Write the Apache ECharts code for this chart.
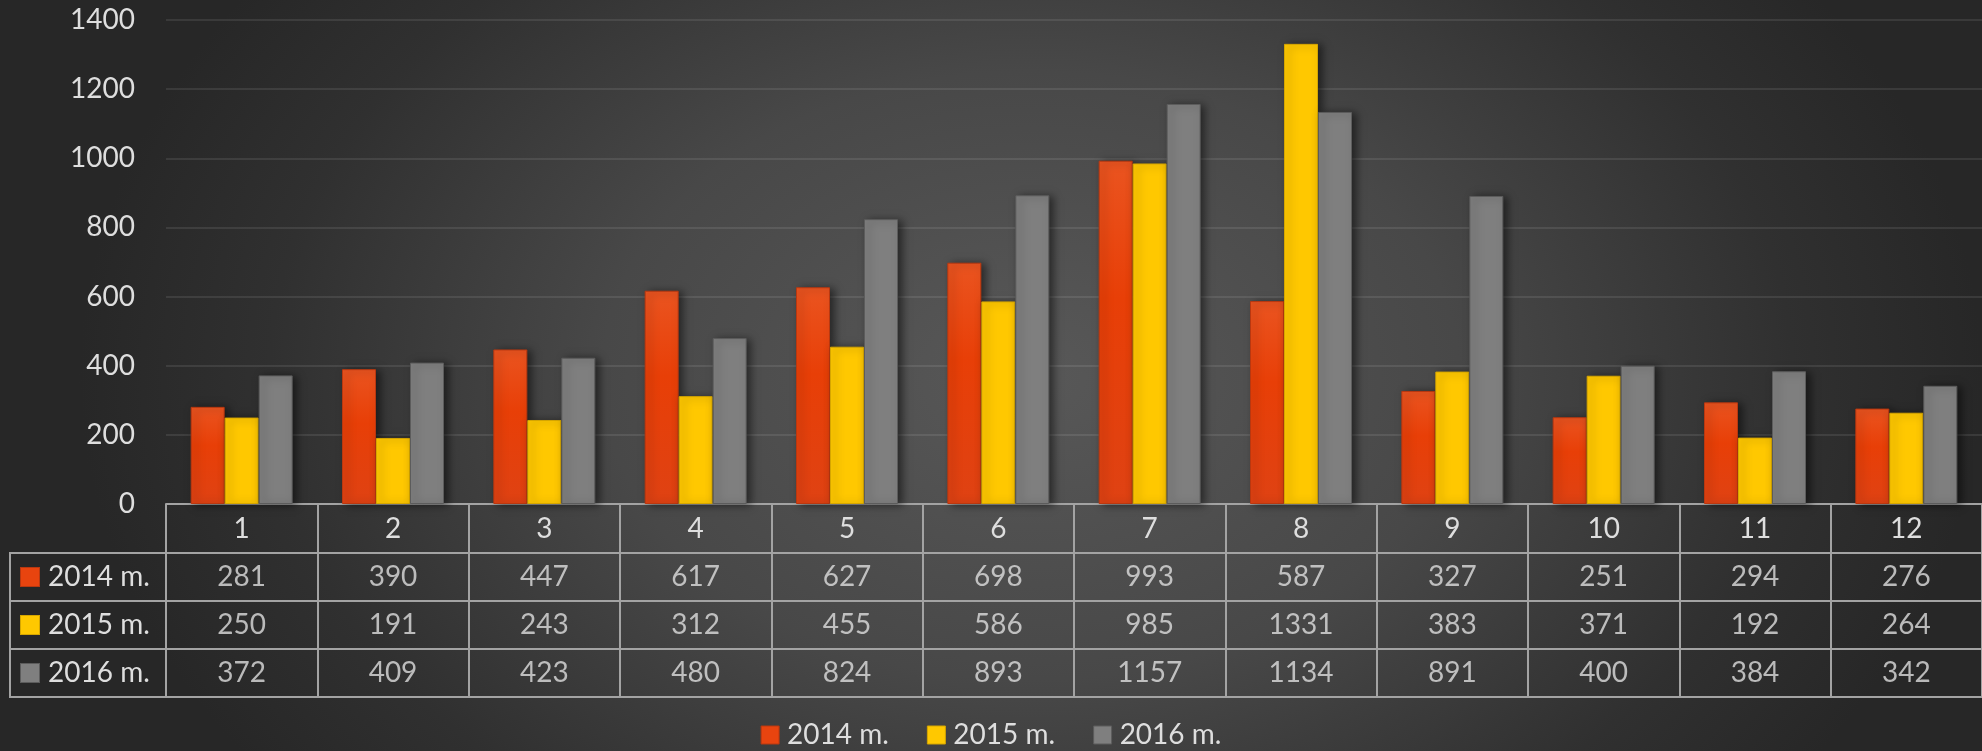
<!DOCTYPE html>
<html>
<head>
<meta charset="utf-8">
<title>2014-2016 m.</title>
<script src="https://cdn.jsdelivr.net/npm/echarts@6/dist/echarts.min.js"></script>
<style>
  html, body { margin: 0; padding: 0; }
  #chart {
    width: 1982px;
    height: 751px;
    background: radial-gradient(ellipse 48% 90% at 52% 50%, #585858 0%, #484848 45%, #303030 80%, #272727 100%);
  }
</style>
</head>
<body>
<div id="chart"></div>
<script>
// data
const months = ['1', '2', '3', '4', '5', '6', '7', '8', '9', '10', '11', '12'];
const seriesNames = ['2014 m.', '2015 m.', '2016 m.'];
const values2014 = [281, 390, 447, 617, 627, 698, 993, 587, 327, 251, 294, 276];
const values2015 = [250, 191, 243, 312, 455, 586, 985, 1331, 383, 371, 192, 264];
const values2016 = [372, 409, 423, 480, 824, 893, 1157, 1134, 891, 400, 384, 342];
const yMin = 0;
const yMax = 1400;
const yStep = 200;

const allValues = [values2014, values2015, values2016];
const colors = ['#E8440F', '#FFC800', '#7F7F7F'];
const borders = ['#B93810', '#D6A600', '#5C5C5C'];
const textColor = '#dedede';
const lineColor = '#a3a3a3';
const font = 'Lato, "Open Sans", sans-serif';

const chart = echarts.init(document.getElementById('chart'));

// cells of the data table: [month index, row index, value]
const tableCells = [];
allValues.forEach((vals, r) => {
  vals.forEach((v, c) => tableCells.push([c, r, v]));
});

const rich = { t: { fontSize: 28, color: textColor, fontFamily: font, padding: [0, 0, 0, 9] } };
colors.forEach((c, i) => {
  rich['m' + i] = { width: 18, height: 18, backgroundColor: c, borderColor: borders[i], borderWidth: 1 };
});

const barSeries = seriesNames.map((name, i) => ({
  name: name,
  type: 'bar',
  xAxisIndex: 0,
  yAxisIndex: 0,
  data: allValues[i],
  barWidth: 34,
  barGap: '0%',
  itemStyle: {
    color: i === 0 ? {
      type: 'linear', x: 0, y: 0, x2: 0, y2: 1,
      colorStops: [{ offset: 0, color: '#EA5420' }, { offset: 0.4, color: '#E83F07' }, { offset: 1, color: '#DF4213' }]
    } : colors[i],
    borderColor: borders[i],
    borderWidth: 1,
    shadowBlur: 8,
    shadowColor: 'rgba(0,0,0,0.5)',
    shadowOffsetX: 4,
    shadowOffsetY: 1
  }
}));

const option = {
  animation: false,
  backgroundColor: 'transparent',
  textStyle: { fontFamily: font },
  legend: {
    data: seriesNames.map((n, i) => ({ name: n, itemStyle: { color: colors[i], borderColor: borders[i], borderWidth: 1, shadowBlur: 0 } })),
    left: 'center',
    top: 721,
    padding: 0,
    icon: 'rect',
    itemWidth: 18,
    itemHeight: 18,
    itemGap: 38,
    textStyle: { color: textColor, fontSize: 28, padding: [0, 0, 0, 3] }
  },
  grid: [
    { left: 166, width: 1820, top: 20, height: 484 },
    { left: 166, width: 1820, top: 553, height: 144, show: true, borderColor: lineColor, borderWidth: 2, backgroundColor: 'transparent' },
    { left: 10, width: 156, top: 553, height: 144, show: true, borderColor: lineColor, borderWidth: 2, backgroundColor: 'transparent' }
  ],
  xAxis: [
    {
      type: 'category',
      gridIndex: 0,
      data: months,
      axisLine: { show: true, lineStyle: { color: lineColor, width: 2 } },
      axisTick: { show: true, interval: 0, length: 49, lineStyle: { color: lineColor, width: 2 } },
      axisLabel: { interval: 0, margin: 25, verticalAlign: 'middle', color: textColor, fontSize: 28 },
      splitLine: { show: false }
    },
    {
      type: 'category',
      gridIndex: 1,
      data: months,
      axisLine: { show: false },
      axisTick: { show: false },
      axisLabel: { show: false },
      splitLine: { show: true, interval: 0, lineStyle: { color: lineColor, width: 2 } }
    },
    { type: 'value', gridIndex: 2, show: false }
  ],
  yAxis: [
    {
      type: 'value',
      gridIndex: 0,
      min: yMin,
      max: yMax,
      interval: yStep,
      axisLine: { show: false },
      axisTick: { show: false },
      axisLabel: { color: textColor, fontSize: 28, margin: 31, formatter: v => String(v) },
      splitLine: { show: true, lineStyle: { color: 'rgba(255,255,255,0.09)', width: 2 } }
    },
    {
      type: 'category',
      gridIndex: 1,
      data: seriesNames,
      inverse: true,
      axisLine: { show: false },
      axisTick: { show: false },
      axisLabel: { show: false },
      splitLine: { show: true, interval: 0, lineStyle: { color: lineColor, width: 2 } }
    },
    {
      type: 'category',
      gridIndex: 2,
      data: seriesNames,
      inverse: true,
      axisLine: { show: false },
      axisTick: { show: false },
      axisLabel: {
        inside: true,
        margin: 11,
        align: 'left',
        verticalAlign: 'middle',
        formatter: (v, i) => '{m' + i + '|}{t|' + v + '}',
        rich: rich
      },
      splitLine: { show: true, interval: 0, lineStyle: { color: lineColor, width: 2 } }
    }
  ],
  series: barSeries.concat([{
    name: 'table',
    type: 'scatter',
    xAxisIndex: 1,
    yAxisIndex: 1,
    data: tableCells,
    symbolSize: 1,
    silent: true,
    itemStyle: { color: 'rgba(0,0,0,0)' },
    label: {
      show: true,
      position: 'inside',
      formatter: p => String(p.value[2]),
      color: textColor,
      fontSize: 28,
      fontFamily: font
    }
  }])
};

chart.setOption(option);
</script>
</body>
</html>
